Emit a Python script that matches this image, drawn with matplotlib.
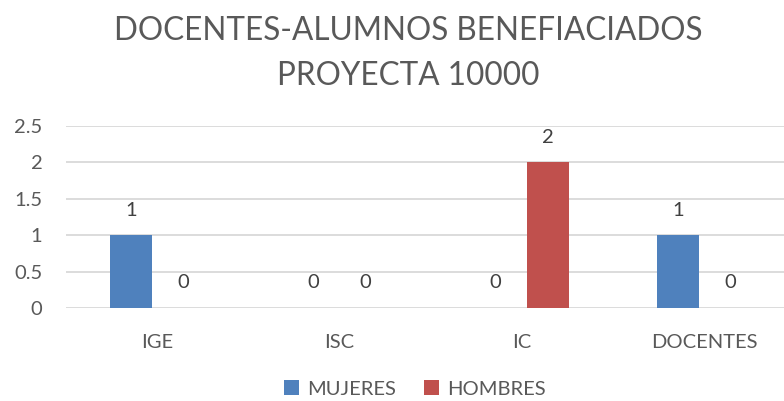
import numpy as np
import matplotlib
matplotlib.use("Agg")
import matplotlib.pyplot as plt

categorias = ["IGE", "ISC", "IC", "DOCENTES"]
mujeres = [1, 0, 0, 1]
hombres = [0, 0, 2, 0]
yticks = [0, 0.5, 1, 1.5, 2, 2.5]

gris = "#595959"
azul = "#4F81BD"
rojo = "#C0504D"

plt.rcParams["font.family"] = ["Lato", "DejaVu Sans"]

fig = plt.figure(figsize=(7.84, 4.01), dpi=100)
ax = fig.add_axes([66 / 784, 1 - 308 / 401, 1 - 66 / 784, (308 - 126) / 401])

x = np.arange(len(categorias))
ancho = 0.228
desp = 0.143
b1 = ax.bar(x - desp, mujeres, ancho, color=azul, label="MUJERES", zorder=3)
b2 = ax.bar(x + desp, hombres, ancho, color=rojo, label="HOMBRES", zorder=3)

for barras in (b1, b2):
    for b in barras:
        h = b.get_height()
        ax.annotate(str(int(h)), (b.get_x() + b.get_width() / 2, h),
                    xytext=(0, 18), textcoords="offset points",
                    ha="center", va="center", fontsize=14.5, color="#404040")

ax.set_xlim(-0.5, (784 - 66) / 182.3 - 0.5)
ax.set_ylim(0, 2.5)
ax.set_yticks(yticks)
ax.set_yticklabels(["0", "0.5", "1", "1.5", "2", "2.5"])
ax.set_xticks(x)
ax.set_xticklabels(categorias)
ax.tick_params(axis="both", length=0, labelsize=14.5, labelcolor=gris)
ax.tick_params(axis="y", pad=17)
ax.tick_params(axis="x", pad=19)
ax.grid(axis="y", color="#D9D9D9", linewidth=1.3, zorder=0)
for s in ax.spines.values():
    s.set_visible(False)

fig.text(408 / 784, 1 - 31 / 401, "DOCENTES-ALUMNOS BENEFIACIADOS", ha="center",
         va="center", fontsize=22.7, color=gris)
fig.text(408 / 784, 1 - 76 / 401, "PROYECTA 10000", ha="center",
         va="center", fontsize=22.7, color=gris)

fig.legend(handles=[b1, b2], loc="center", bbox_to_anchor=(415 / 784, 1 - 389 / 401),
           ncol=2, frameon=False, fontsize=14.5, labelcolor=gris,
           handlelength=0.75, handleheight=0.75, handletextpad=0.4, columnspacing=1.4)

fig.savefig("out.png", dpi=100)
